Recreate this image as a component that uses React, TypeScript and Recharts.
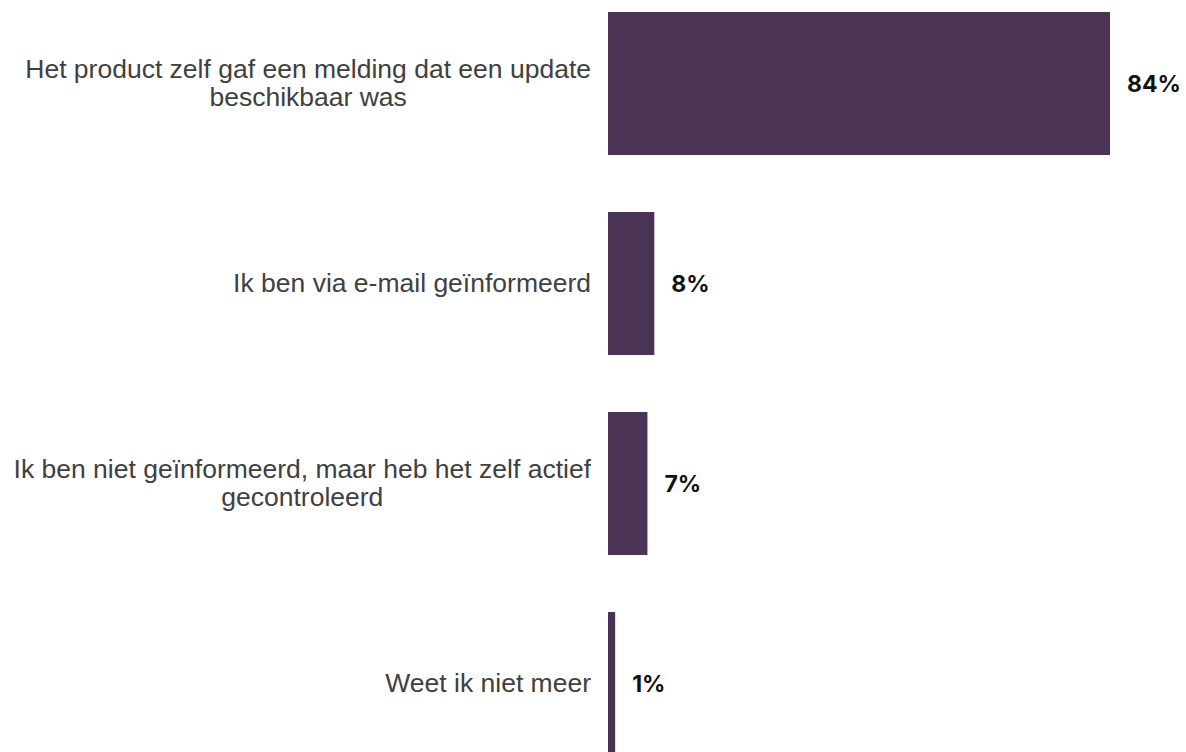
import React from 'react';
import { BarChart, Bar, XAxis, YAxis, LabelList } from 'recharts';

const categories = [
  'Het product zelf gaf een melding dat een update beschikbaar was',
  'Ik ben via e-mail geïnformeerd',
  'Ik ben niet geïnformeerd, maar heb het zelf actief gecontroleerd',
  'Weet ik niet meer',
];
const categoryLines = [
  ['Het product zelf gaf een melding dat een update', 'beschikbaar was'],
  ['Ik ben via e-mail geïnformeerd'],
  ['Ik ben niet geïnformeerd, maar heb het zelf actief', 'gecontroleerd'],
  ['Weet ik niet meer'],
];
const values = [84, 7.75, 6.6, 1.2];
const valueLabels = ['84%', '8%', '7%', '1%'];

const data = categories.map((name, i) => ({
  name,
  value: values[i],
  label: valueLabels[i],
}));

const CategoryTick = (props: any) => {
  const { x, y, payload } = props;
  const idx = categories.indexOf(payload.value);
  const lines = categoryLines[idx] || [payload.value];
  const w = x - 9;
  return (
    <foreignObject x={0} y={y - 50} width={w} height={100}>
      <div
        style={{
          height: 100,
          display: 'flex',
          alignItems: 'center',
          justifyContent: 'flex-end',
        }}
      >
        <div
          style={{
            textAlign: 'center',
            fontFamily: '"Liberation Sans", Arial, sans-serif',
            fontSize: 26.5,
            lineHeight: '28px',
            color: '#404040',
            whiteSpace: 'nowrap',
          }}
        >
          {lines.map((l, i) => (
            <div key={i}>{l}</div>
          ))}
        </div>
      </div>
    </foreignObject>
  );
};

export default function App() {
  return (
    <div
      style={{
        position: 'fixed',
        top: 0,
        left: 0,
        width: 1186,
        height: 752,
        overflow: 'hidden',
        background: '#fff',
      }}
    >
      <div style={{ position: 'absolute', top: -17, left: 0 }}>
        <BarChart
          width={1186}
          height={800}
          data={data}
          layout="vertical"
          margin={{ top: 0, right: 76, bottom: 0, left: 0 }}
          barSize={143}
        >
          <XAxis type="number" domain={[0, 84]} hide />
          <YAxis
            type="category"
            dataKey="name"
            width={608}
            axisLine={false}
            tickLine={false}
            tick={<CategoryTick />}
          />
          <Bar dataKey="value" fill="#4B3356" isAnimationActive={false}>
            <LabelList
              dataKey="label"
              position="right"
              offset={17}
              style={{
                fontFamily: 'Inter, sans-serif',
                fontSize: 23,
                fontWeight: 700,
                fill: '#111111',
              }}
            />
          </Bar>
        </BarChart>
      </div>
    </div>
  );
}
